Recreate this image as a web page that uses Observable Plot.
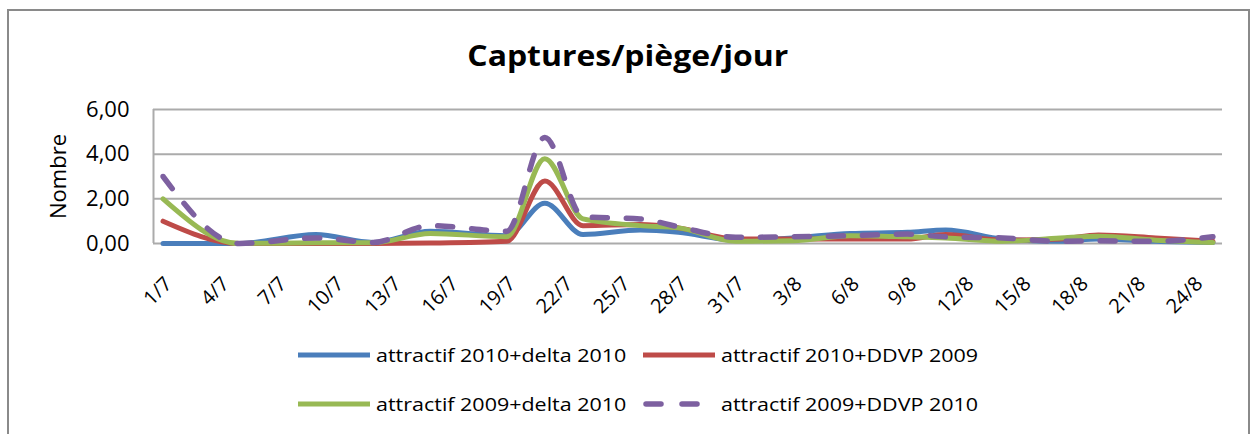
<!DOCTYPE html>
<html>
<head>
<meta charset="utf-8">
<script src="https://cdn.jsdelivr.net/npm/d3@7"></script>
<script src="https://cdn.jsdelivr.net/npm/@observablehq/plot@0.6"></script>
<style>
  html, body { margin: 0; padding: 0; background: #fff; }
  #wrap { position: relative; width: 1256px; height: 434px; overflow: hidden; font-family: "Open Sans", sans-serif; color: #000; }
  #frame { position: absolute; left: 7px; top: 9px; width: 1243px; height: 440px; border: 2px solid #8a8a8a; box-sizing: border-box; pointer-events: none; }
  #title { height: 80px; box-sizing: border-box; padding-top: 36px; line-height: 38px; text-align: center; }
  #title span { display: inline-block; font-size: 28px; font-weight: 700; transform: scaleX(1.14); margin-left: 0px; }
  #chart svg { display: block; }
  #legend { position: relative; height: 104px; font-size: 19px; }
  .item { position: absolute; display: flex; align-items: center; height: 26px; white-space: nowrap; }
  .item svg { margin-right: 6px; flex: none; }
  .item span { display: inline-block; transform: scaleX(1.13); transform-origin: left center; }
</style>
</head>
<body>
<div id="wrap">
  <div id="frame"></div>
  <div id="title"><span>Captures/piège/jour</span></div>
  <div id="chart"></div>
  <div id="legend"></div>
</div>
<script>
// ---- data ----
const dates = ["1/7","5/7","9/7","12/7","15/7","19/7","21/7","23/7","26/7","28/7","31/7","3/8","6/8","9/8","11/8","14/8","17/8","19/8","22/8","25/8"];
const seriesNames = ["attractif 2010+delta 2010","attractif 2010+DDVP 2009","attractif 2009+delta 2010","attractif 2009+DDVP 2010"];
const blueValues   = [0, 0, 0.40, 0.05, 0.55, 0.35, 1.80, 0.40, 0.60, 0.50, 0.15, 0.25, 0.45, 0.50, 0.60, 0.20, 0.10, 0.20, 0.10, 0.05];
const redValues    = [1.0, 0, 0, 0, 0.02, 0.10, 2.80, 0.80, 0.85, 0.70, 0.20, 0.20, 0.20, 0.20, 0.40, 0.15, 0.20, 0.38, 0.25, 0.10];
const greenValues  = [2.0, 0, 0.03, 0.03, 0.45, 0.30, 3.80, 1.10, 0.80, 0.70, 0.10, 0.12, 0.35, 0.30, 0.25, 0.10, 0.25, 0.33, 0.15, 0.05];
const purpleValues = [3.0, 0, 0.25, 0.05, 0.80, 0.55, 4.75, 1.20, 1.10, 0.75, 0.28, 0.30, 0.35, 0.42, 0.30, 0.25, 0.10, 0.12, 0.10, 0.30];
const tickLabels = ["1/7","4/7","7/7","10/7","13/7","16/7","19/7","22/7","25/7","28/7","31/7","3/8","6/8","9/8","12/8","15/8","18/8","21/8","24/8"];
const yTicks = [0, 2, 4, 6];
const year = 2010;

// ---- helpers ----
const parseDay = (s, hour) => { const [d, m] = s.split("/").map(Number); return new Date(Date.UTC(year, m - 1, d, hour)); };
const colors = ["#4a7ebb", "#be4b48", "#98b954", "#7d60a0"];
const allValues = [blueValues, redValues, greenValues, purpleValues];
const rows = allValues.map(vals => dates.map((d, i) => ({date: parseDay(d, 12), value: vals[i]})));
const tickDates = tickLabels.map(s => parseDay(s, 0));
const xStart = parseDay("1/7", 0);
const xEnd = parseDay("26/8", 0);
const curve = "monotone-x";

const chart = Plot.plot({
  width: 1256,
  height: 250,
  marginLeft: 153,
  marginRight: 34,
  marginTop: 29,
  marginBottom: 87,
  style: {fontFamily: "'Open Sans', sans-serif", color: "#000", background: "transparent"},
  x: {type: "utc", domain: [xStart, xEnd]},
  y: {domain: [0, 6]},
  marks: [
    Plot.ruleY(yTicks, {stroke: "#ababab", strokeWidth: 2}),
    Plot.ruleX([xStart], {y1: 0, y2: 6, stroke: "#ababab", strokeWidth: 2}),
    Plot.axisY({ticks: yTicks, tickFormat: v => v.toFixed(2).replace(".", ","), tickSize: 0, tickPadding: 24, fontSize: 22, label: null}),
    Plot.axisX({ticks: tickDates, tickFormat: d => `${d.getUTCDate()}/${d.getUTCMonth() + 1}`, tickRotate: -45, tickSize: 0, tickPadding: 14, dx: 15, dy: 23, fontSize: 20, label: null}),
    Plot.text(["Nombre"], {frameAnchor: "left", textAnchor: "middle", rotate: -90, dx: -95, fontSize: 22}),
    Plot.line(rows[0], {x: "date", y: "value", stroke: colors[0], strokeWidth: 5, curve}),
    Plot.line(rows[1], {x: "date", y: "value", stroke: colors[1], strokeWidth: 5, curve}),
    Plot.line(rows[2], {x: "date", y: "value", stroke: colors[2], strokeWidth: 5, curve}),
    Plot.line(rows[3], {x: "date", y: "value", stroke: colors[3], strokeWidth: 5.5, curve, strokeDasharray: "15,19", strokeLinecap: "round"})
  ]
});
document.getElementById("chart").appendChild(chart);

// ---- legend ----
const legend = document.getElementById("legend");
const positions = [[298, 12], [643, 12], [298, 61], [643, 61]];
seriesNames.forEach((name, i) => {
  const item = document.createElement("div");
  item.className = "item";
  item.style.left = positions[i][0] + "px";
  item.style.top = positions[i][1] + "px";
  const line = i === 3
    ? `<line x1="3" y1="5" x2="18" y2="5" stroke="${colors[i]}" stroke-width="5.5" stroke-linecap="round"/><line x1="39" y1="5" x2="54" y2="5" stroke="${colors[i]}" stroke-width="5.5" stroke-linecap="round"/>`
    : `<line x1="0" y1="5" x2="72" y2="5" stroke="${colors[i]}" stroke-width="5"/>`;
  item.innerHTML = `<svg width="72" height="10">${line}</svg><span>${name}</span>`;
  legend.appendChild(item);
});
</script>
</body>
</html>
